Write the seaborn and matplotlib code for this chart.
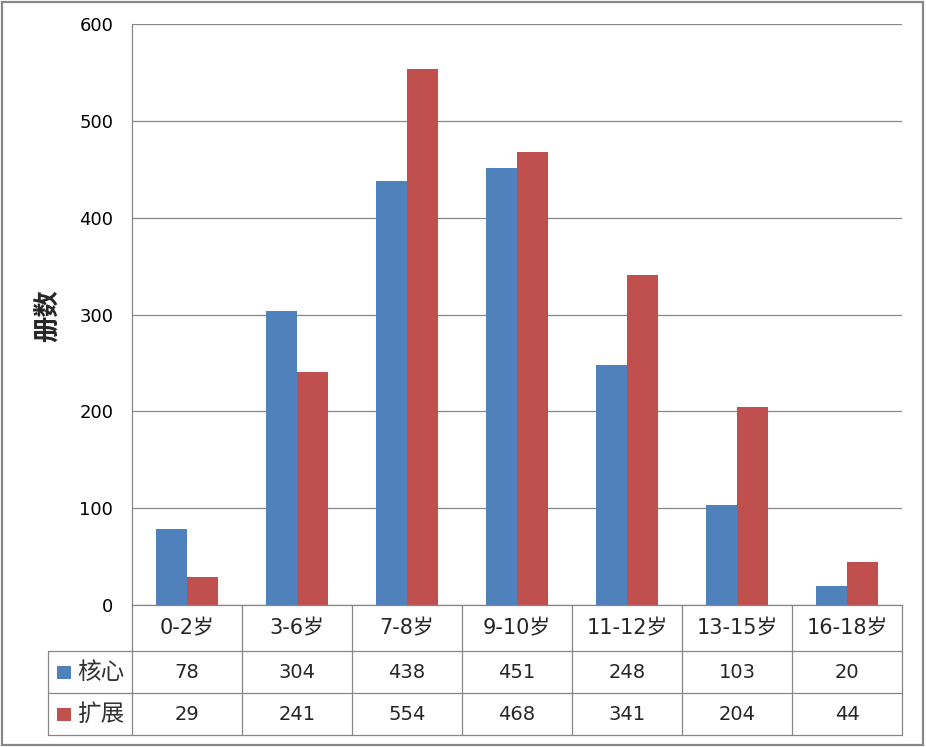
import matplotlib
matplotlib.use("Agg")
import matplotlib.pyplot as plt
import seaborn as sns
import pandas as pd
from matplotlib.patches import Rectangle

categories = ["0-2岁", "3-6岁", "7-8岁", "9-10岁", "11-12岁", "13-15岁", "16-18岁"]
series_names = ["核心", "扩展"]
core_values = [78, 304, 438, 451, 248, 103, 20]
ext_values = [29, 241, 554, 468, 341, 204, 44]
y_ticks = [0, 100, 200, 300, 400, 500, 600]
y_label = "册数"

colors = ["#4F81BD", "#C0504D"]
grid_c = "#868686"

sns.set_theme(style="white")
plt.rcParams["font.family"] = ["DejaVu Sans", "Noto Sans CJK SC"]

df = pd.DataFrame({
    "cat": categories * 2,
    "series": [series_names[0]] * len(categories) + [series_names[1]] * len(categories),
    "val": core_values + ext_values,
})

W, H = 926, 747
fig = plt.figure(figsize=(W / 100, H / 100), dpi=100)
fig.patch.set_facecolor("white")

L, R, T, B = 132, 902, 24, 605
ax = fig.add_axes([L / W, (H - B) / H, (R - L) / W, (B - T) / H])
sns.barplot(data=df, x="cat", y="val", hue="series", palette=colors,
            order=categories, hue_order=series_names, width=62 / 110,
            gap=0, saturation=1, ax=ax, legend=False, edgecolor="none", linewidth=0)
ax.set_xlim(-0.5, len(categories) - 0.5)
ax.set_ylim(0, 600)
ax.set_yticks(y_ticks)
ax.set_yticklabels([str(v) for v in y_ticks], fontsize=13)
ax.set_xticks([])
ax.set_xlabel("")
ax.set_ylabel("")
ax.tick_params(axis="y", length=0, pad=13.5, colors="black")
ax.yaxis.grid(True, color=grid_c, linewidth=0.9)
ax.set_axisbelow(True)
for s in ["top", "right"]:
    ax.spines[s].set_visible(False)
for s in ["left", "bottom"]:
    ax.spines[s].set_color(grid_c)
    ax.spines[s].set_linewidth(0.9)
ax.set_facecolor("none")

# overlay in pixel coordinates for the data table and frame
ov = fig.add_axes([0, 0, 1, 1])
ov.set_xlim(0, W)
ov.set_ylim(H, 0)
ov.axis("off")
ov.patch.set_alpha(0)

lw = 0.9
col_w = (R - L) / len(categories)
r0, r1, r2, r3 = 605, 651, 693, 735
tab_left = 48
for y in [r1, r2, r3]:
    ov.plot([tab_left, R], [y, y], color=grid_c, lw=lw)
ov.plot([tab_left, tab_left], [r1, r3], color=grid_c, lw=lw)
ov.plot([L, L], [r0, r3], color=grid_c, lw=lw)
for k in range(1, len(categories) + 1):
    x = L + col_w * k
    ov.plot([x, x], [r0, r3], color=grid_c, lw=lw)

fs = 14
for k, c in enumerate(categories):
    cx = L + col_w * (k + 0.5)
    ov.text(cx, (r0 + r1) / 2, c, ha="center", va="center", fontsize=15)
    ov.text(cx, (r1 + r2) / 2, str(core_values[k]), ha="center", va="center", fontsize=fs)
    ov.text(cx, (r2 + r3) / 2, str(ext_values[k]), ha="center", va="center", fontsize=fs)

for i, (name, yc) in enumerate(zip(series_names, [(r1 + r2) / 2, (r2 + r3) / 2])):
    ov.add_patch(Rectangle((57, yc - 6.5), 14, 13, facecolor=colors[i], edgecolor="none"))
    ov.text(77, yc, name, ha="left", va="center", fontsize=17,
            family=["Noto Sans CJK SC"], color="#333333")

ov.text(47, 316, y_label, ha="center", va="center", rotation=90, fontsize=19,
        fontweight="bold", family=["Noto Sans CJK SC"])

# outer frame
ov.add_patch(Rectangle((2, 2), 920.5, 742.5, facecolor="none", edgecolor="#888888", lw=1.6))

fig.savefig("out.png", dpi=100)
